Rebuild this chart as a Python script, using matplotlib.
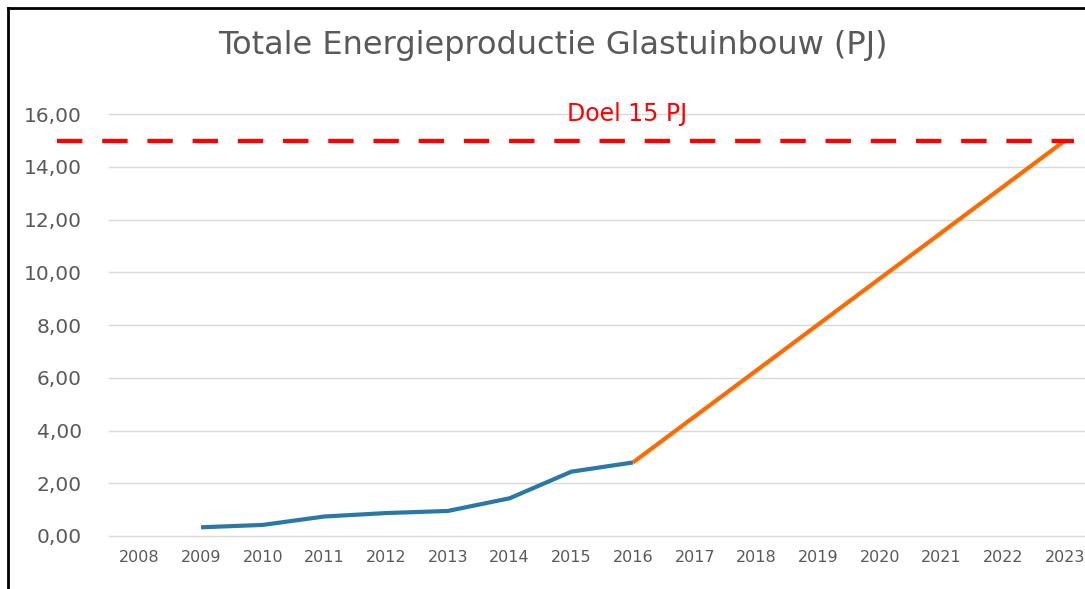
import matplotlib.pyplot as plt
from matplotlib.lines import Line2D

# data
YEARS = list(range(2008, 2024))
ACTUAL_YEARS = [2009, 2010, 2011, 2012, 2013, 2014, 2015, 2016]
ACTUAL_PJ = [0.33, 0.42, 0.74, 0.87, 0.95, 1.43, 2.44, 2.79]
TREND_YEARS = [2016, 2023]
TREND_PJ = [2.79, 15.0]
TARGET_PJ = 15.0
Y_TICKS = [0, 2, 4, 6, 8, 10, 12, 14, 16]

BLUE = '#2878A8'
ORANGE = '#FF6A00'
GREY = '#595959'

fig = plt.figure(figsize=(10.85, 5.89), dpi=100)
ax = fig.add_axes([0.1, 0.09, 0.91, 0.716])

ax.plot(ACTUAL_YEARS, ACTUAL_PJ, color=BLUE, lw=3, solid_capstyle='butt', solid_joinstyle='round', zorder=3)
ax.plot(TREND_YEARS, TREND_PJ, color=ORANGE, lw=3, solid_capstyle='butt', zorder=3)
ax.axhline(TARGET_PJ, xmin=-0.052, xmax=0.978, color='#FF0000', lw=3.1,
           dashes=(5.9, 4.6), clip_on=False, zorder=4)
ax.text(0.525, 1.0, 'Doel 15 PJ', transform=ax.transAxes, ha='center', va='center',
        color='#FF0000', fontsize=17)

ax.set_xlim(YEARS[0] - 0.5, YEARS[-1] + 0.5)
ax.set_ylim(0, 16)
ax.set_xticks(YEARS)
ax.set_xticklabels([str(y) for y in YEARS], fontsize=11.5, color=GREY)
ax.set_yticks(Y_TICKS)
ax.set_yticklabels([f'{v:.2f}'.replace('.', ',') for v in Y_TICKS], fontsize=14.5, color=GREY)
ax.tick_params(axis='x', length=0, pad=10)
ax.tick_params(axis='y', length=0, pad=19)
ax.grid(axis='y', color='#D9D9D9', lw=1)
for gl in ax.get_ygridlines():
    gl.set_clip_on(False)
ax.set_axisbelow(True)
for s in ax.spines.values():
    s.set_visible(False)

fig.text(0.51, 0.922, 'Totale Energieproductie Glastuinbouw (PJ)', ha='center', va='center',
         fontsize=23, color=GREY)

# black frame (left and top) as in the screenshot
fig.add_artist(Line2D([8 / 1085, 8 / 1085], [0, 1 - 8 / 589], color='black', lw=2, transform=fig.transFigure))
fig.add_artist(Line2D([8 / 1085, 1], [1 - 8 / 589, 1 - 8 / 589], color='black', lw=2, transform=fig.transFigure))

fig.savefig('out.png', dpi=100)
